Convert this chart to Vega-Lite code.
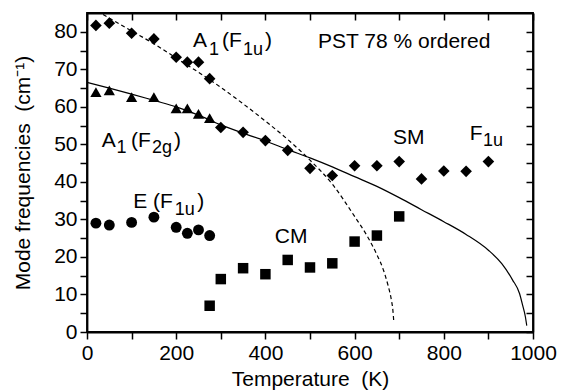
{
  "$schema": "https://vega.github.io/schema/vega-lite/v6.json",
  "autosize": {"type": "none"},
  "width": 446,
  "height": 319,
  "padding": {"left": 87, "top": 13, "right": 34, "bottom": 60},
  "background": "white",
  "config": {
    "view": {"stroke": "black", "strokeWidth": 1.8},
    "font": "Liberation Sans",
    "axis": {
      "grid": false,
      "domainColor": "black",
      "domainWidth": 1.8,
      "tickColor": "black",
      "tickWidth": 1.5,
      "tickSize": 7,
      "labelFont": "Liberation Sans",
      "labelFontSize": 21,
      "labelColor": "black",
      "labelPadding": 3,
      "titleFont": "Liberation Sans",
      "titleFontSize": 21,
      "titleFontWeight": "normal",
      "titleColor": "black"
    }
  },
  "datasets": {
    "pts": [
      {"mode": "A1(F1u)/SM", "T": 20, "f": 81.7},
      {"mode": "A1(F1u)/SM", "T": 50, "f": 82.3},
      {"mode": "A1(F1u)/SM", "T": 100, "f": 79.6},
      {"mode": "A1(F1u)/SM", "T": 150, "f": 78.1},
      {"mode": "A1(F1u)/SM", "T": 200, "f": 73.2},
      {"mode": "A1(F1u)/SM", "T": 225, "f": 71.9},
      {"mode": "A1(F1u)/SM", "T": 250, "f": 71.9},
      {"mode": "A1(F1u)/SM", "T": 275, "f": 67.5},
      {"mode": "A1(F1u)/SM", "T": 300, "f": 54.5},
      {"mode": "A1(F1u)/SM", "T": 350, "f": 53.2},
      {"mode": "A1(F1u)/SM", "T": 400, "f": 51.0},
      {"mode": "A1(F1u)/SM", "T": 450, "f": 48.4},
      {"mode": "A1(F1u)/SM", "T": 500, "f": 43.6},
      {"mode": "A1(F1u)/SM", "T": 550, "f": 41.7},
      {"mode": "A1(F1u)/SM", "T": 600, "f": 44.3},
      {"mode": "A1(F1u)/SM", "T": 650, "f": 44.3},
      {"mode": "A1(F1u)/SM", "T": 700, "f": 45.4},
      {"mode": "A1(F1u)/SM", "T": 750, "f": 40.8},
      {"mode": "A1(F1u)/SM", "T": 800, "f": 42.9},
      {"mode": "A1(F1u)/SM", "T": 850, "f": 42.8},
      {"mode": "A1(F1u)/SM", "T": 900, "f": 45.4},
      {"mode": "A1(F2g)", "T": 20, "f": 63.9},
      {"mode": "A1(F2g)", "T": 50, "f": 64.4},
      {"mode": "A1(F2g)", "T": 100, "f": 62.6},
      {"mode": "A1(F2g)", "T": 150, "f": 62.6},
      {"mode": "A1(F2g)", "T": 200, "f": 59.6},
      {"mode": "A1(F2g)", "T": 225, "f": 59.6},
      {"mode": "A1(F2g)", "T": 250, "f": 58.1},
      {"mode": "A1(F2g)", "T": 275, "f": 57.0},
      {"mode": "E(F1u)", "T": 20, "f": 29.0},
      {"mode": "E(F1u)", "T": 50, "f": 28.5},
      {"mode": "E(F1u)", "T": 100, "f": 29.2},
      {"mode": "E(F1u)", "T": 150, "f": 30.6},
      {"mode": "E(F1u)", "T": 200, "f": 27.9},
      {"mode": "E(F1u)", "T": 225, "f": 26.3},
      {"mode": "E(F1u)", "T": 250, "f": 27.2},
      {"mode": "E(F1u)", "T": 275, "f": 25.7},
      {"mode": "CM", "T": 275, "f": 7.0},
      {"mode": "CM", "T": 300, "f": 14.1},
      {"mode": "CM", "T": 350, "f": 17.0},
      {"mode": "CM", "T": 400, "f": 15.4},
      {"mode": "CM", "T": 450, "f": 19.2},
      {"mode": "CM", "T": 500, "f": 17.2},
      {"mode": "CM", "T": 550, "f": 18.3},
      {"mode": "CM", "T": 600, "f": 24.1},
      {"mode": "CM", "T": 650, "f": 25.7},
      {"mode": "CM", "T": 700, "f": 30.8}
    ],
    "fitSolid": [
      {"T": 0, "f": 66.5}, {"T": 50, "f": 65.0}, {"T": 100, "f": 63.4},
      {"T": 150, "f": 61.7}, {"T": 200, "f": 60.0}, {"T": 250, "f": 57.8},
      {"T": 300, "f": 55.2}, {"T": 350, "f": 53.0}, {"T": 400, "f": 50.9},
      {"T": 450, "f": 48.6}, {"T": 500, "f": 46.4}, {"T": 550, "f": 44.0},
      {"T": 600, "f": 41.4}, {"T": 650, "f": 38.8}, {"T": 700, "f": 35.8},
      {"T": 750, "f": 32.6}, {"T": 800, "f": 29.4}, {"T": 850, "f": 26.0},
      {"T": 900, "f": 21.8}, {"T": 930, "f": 18.2}, {"T": 954, "f": 13.9},
      {"T": 970, "f": 10.2}, {"T": 977, "f": 7.0}, {"T": 983, "f": 4.0},
      {"T": 986, "f": 1.7}
    ],
    "fitDashed": [
      {"T": 36, "f": 84.6}, {"T": 100, "f": 80.2}, {"T": 150, "f": 76.8},
      {"T": 200, "f": 73.0}, {"T": 250, "f": 69.2}, {"T": 300, "f": 65.2},
      {"T": 350, "f": 60.8}, {"T": 400, "f": 56.2}, {"T": 450, "f": 51.3},
      {"T": 500, "f": 45.8}, {"T": 550, "f": 39.4}, {"T": 600, "f": 30.8},
      {"T": 630, "f": 25.2}, {"T": 650, "f": 20.6}, {"T": 665, "f": 16.4},
      {"T": 675, "f": 12.4}, {"T": 682, "f": 8.8}, {"T": 686, "f": 5.6},
      {"T": 688, "f": 2.5}
    ],
    "labels": [
      {"t": "A", "T": 237.6, "f": 76.0},
      {"t": "(F", "T": 302.7, "f": 76.0},
      {"t": ")", "T": 399, "f": 76.0},
      {"t": "PST 78 % ordered", "T": 518, "f": 75.7},
      {"t": "A", "T": 33, "f": 49.4},
      {"t": "(F", "T": 98.6, "f": 49.4},
      {"t": ")", "T": 195, "f": 49.4},
      {"t": "SM", "T": 686, "f": 50.1},
      {"t": "F", "T": 858, "f": 51.2},
      {"t": "E", "T": 103.7, "f": 33.0},
      {"t": "(F", "T": 148, "f": 33.0},
      {"t": ")", "T": 247, "f": 33.0},
      {"t": "CM", "T": 421, "f": 23.7}
    ],
    "subs": [
      {"t": "1", "T": 273.5, "f": 73.9},
      {"t": "1u", "T": 349.8, "f": 73.9},
      {"t": "1", "T": 66, "f": 47.7},
      {"t": "2g", "T": 145.7, "f": 47.7},
      {"t": "1u", "T": 888, "f": 49.6},
      {"t": "1u", "T": 197, "f": 31.2}
    ]
  },
  "layer": [
    {
      "data": {"name": "pts"},
      "mark": {"type": "point", "filled": true, "opacity": 1, "color": "black", "strokeWidth": 0},
      "encoding": {
        "x": {
          "field": "T", "type": "quantitative",
          "scale": {"domain": [0, 1000], "nice": false, "zero": false},
          "axis": {
            "orient": "bottom",
            "values": [0, 100, 200, 300, 400, 500, 600, 700, 800, 900, 1000],
            "labelExpr": "datum.value % 200 === 0 ? datum.label : ''",
            "labelFlush": false,
            "labelOverlap": false,
            "format": "d",
            "title": "Temperature\u00a0\u00a0(K)",
            "titlePadding": 5
          }
        },
        "y": {
          "field": "f", "type": "quantitative",
          "scale": {"domain": [0, 85], "nice": false, "zero": false},
          "axis": {
            "orient": "left",
            "values": [0, 5, 10, 15, 20, 25, 30, 35, 40, 45, 50, 55, 60, 65, 70, 75, 80],
            "labelExpr": "datum.value % 10 === 0 ? datum.label : ''",
            "labelFlush": false,
            "labelOverlap": false,
            "labelBaseline": "middle",
            "title": "Mode frequencies\u00a0\u00a0(cm\u207b\u00b9)",
            "titlePadding": 20
          }
        },
        "shape": {
          "field": "mode", "type": "nominal",
          "scale": {"domain": ["A1(F1u)/SM", "A1(F2g)", "E(F1u)", "CM"], "range": ["diamond", "triangle-up", "circle", "square"]},
          "legend": null
        },
        "size": {
          "field": "mode", "type": "nominal",
          "scale": {"domain": ["A1(F1u)/SM", "A1(F2g)", "E(F1u)", "CM"], "range": [135, 110, 75, 75]},
          "legend": null
        }
      }
    },
    {
      "data": {"name": "fitSolid"},
      "mark": {"type": "line", "color": "black", "strokeWidth": 1.2, "interpolate": "monotone"},
      "encoding": {
        "x": {
          "field": "T", "type": "quantitative",
          "axis": {
            "orient": "top",
            "values": [0, 100, 200, 300, 400, 500, 600, 700, 800, 900, 1000],
            "labels": false, "title": null, "domain": true, "domainColor": "black", "domainWidth": 1.8, "tickColor": "black", "tickSize": -7
          }
        },
        "y": {
          "field": "f", "type": "quantitative",
          "axis": {
            "orient": "right",
            "values": [0, 5, 10, 15, 20, 25, 30, 35, 40, 45, 50, 55, 60, 65, 70, 75, 80],
            "labels": false, "title": null, "domain": true, "domainColor": "black", "domainWidth": 1.8, "tickColor": "black", "tickSize": -7
          }
        }
      }
    },
    {
      "data": {"name": "fitDashed"},
      "mark": {"type": "line", "color": "black", "strokeWidth": 1.2, "strokeDash": [4, 3], "interpolate": "monotone"},
      "encoding": {
        "x": {"field": "T", "type": "quantitative", "axis": null},
        "y": {"field": "f", "type": "quantitative", "axis": null}
      }
    },
    {
      "data": {"name": "labels"},
      "mark": {"type": "text", "align": "left", "baseline": "alphabetic", "fontSize": 21, "color": "black", "font": "Liberation Sans"},
      "encoding": {
        "x": {"field": "T", "type": "quantitative", "axis": null},
        "y": {"field": "f", "type": "quantitative", "axis": null},
        "text": {"field": "t"}
      }
    },
    {
      "data": {"name": "subs"},
      "mark": {"type": "text", "align": "left", "baseline": "alphabetic", "fontSize": 18, "color": "black", "font": "Liberation Sans"},
      "encoding": {
        "x": {"field": "T", "type": "quantitative", "axis": null},
        "y": {"field": "f", "type": "quantitative", "axis": null},
        "text": {"field": "t"}
      }
    }
  ],
  "resolve": {"axis": {"x": "independent", "y": "independent"}}
}
